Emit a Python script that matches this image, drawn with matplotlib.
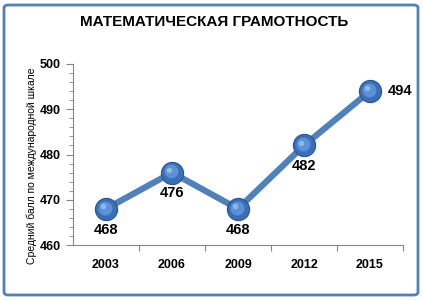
import matplotlib.pyplot as plt
from matplotlib.patches import FancyBboxPatch

plt.rcParams['font.family'] = ['Liberation Sans', 'DejaVu Sans']

# data
years = ['2003', '2006', '2009', '2012', '2015']
scores = [468, 476, 468, 482, 494]
title = 'МАТЕМАТИЧЕСКАЯ ГРАМОТНОСТЬ'
ylabel = 'Средний балл по международной шкале'

narrow = ['Liberation Sans Narrow', 'Liberation Sans', 'DejaVu Sans']

fig = plt.figure(figsize=(4.23, 3.0), dpi=100)
ax = fig.add_axes([73/423, 55/300, 330/423, 181/300])

x = list(range(len(years)))
ax.plot(x, scores, color='#4F81BD', lw=4.5, solid_capstyle='round', zorder=2)
# sphere-like markers
ax.plot(x, scores, 'o', ms=16, color='#3A6FB8', mec='#2A5690', mew=0.8, zorder=3)
ax.plot([i - 0.02 for i in x], [s + 0.25 for s in scores], 'o', ms=10,
        color='#5B92D6', mec='none', zorder=4)
ax.plot([i - 0.05 for i in x], [s + 0.6 for s in scores], 'o', ms=4,
        color='#A9C8F0', mec='none', alpha=0.7, zorder=5)

# value labels
for i, s in enumerate(scores):
    if i == len(scores) - 1:
        ax.annotate(str(s), (i, s), xytext=(13, 0), textcoords='offset points',
                    ha='left', va='center', fontsize=10.5, fontweight='bold')
    else:
        ax.annotate(str(s), (i, s), xytext=(0, -10), textcoords='offset points',
                    ha='center', va='top', fontsize=10.5, fontweight='bold')

ax.set_xlim(-0.5, len(years) - 0.5)
ax.set_ylim(460, 500)
ax.set_yticks(range(460, 501, 10))
ax.set_yticks(range(460, 501, 2), minor=True)
ax.set_xticks([i + 0.5 for i in range(len(years))])
ax.set_xticklabels([])
ax.set_xticks(x, minor=True)
ax.set_xticklabels(years, minor=True, fontsize=9, fontweight='bold', family=narrow)
ax.tick_params(axis='x', which='minor', length=0, pad=10)
ax.tick_params(axis='x', which='major', length=4, color='#868686', direction='out')
ax.tick_params(axis='y', which='both', color='#868686', direction='out')
ax.tick_params(axis='y', which='major', length=5, pad=4)
ax.tick_params(axis='y', which='minor', length=3)
ax.set_yticklabels([str(v) for v in range(460, 501, 10)], fontsize=9,
                   fontweight='bold', family=narrow)

for side in ['top', 'right']:
    ax.spines[side].set_visible(False)
for side in ['left', 'bottom']:
    ax.spines[side].set_color('#868686')

fig.text(32/423, 1 - 166/300, ylabel, rotation=90, ha='center', va='center', fontsize=7.5)
fig.text(214/423, 1 - 22/300, title, ha='center', va='center', fontsize=11, fontweight='bold')

border = FancyBboxPatch((4/423, 5/300), 414/423, 290/300, boxstyle='round,pad=0,rounding_size=0.01',
                        transform=fig.transFigure, fill=False, ec='#4F81BD', lw=2)
fig.patches.append(border)

fig.savefig('out.png', dpi=100)
